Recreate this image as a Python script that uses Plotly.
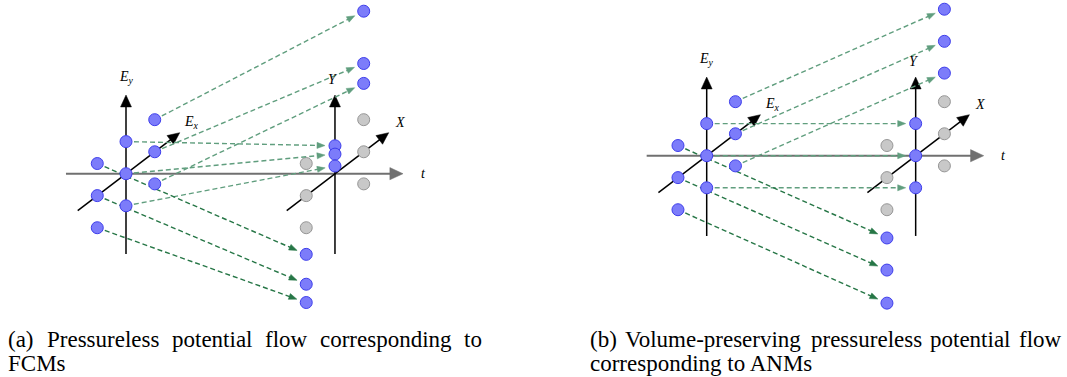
import math
import plotly.graph_objects as go

# ---------------- data (logical coordinates) ----------------
# source grid points at t = 0, given as (Ex, Ey)
src_ex = [1, 1, 1, 0, 0, 0, -1, -1, -1]
src_ey = [1, 0, -1, 1, 0, -1, 1, 0, -1]
# Ey coordinate reached at t = T (same Ex column) for each source point
fcm_dest_ey = [4.38, 2.75, 2.13, 0.87, 0.61, 0.24, -1.83, -2.76, -3.33]
anm_dest_ey = [3.88, 2.88, 1.89, 1.00, 0.00, -1.00, -1.88, -2.88, -3.91]
# grey "ghost" grid points at t = T
ghost_ex = [1, 1, 1, -1, -1, -1]
ghost_ey = [1, 0, -1, 1, 0, -1]
t_end = 6.51

# axis extents (logical units)
t_axis = (-1.87, 8.63)
ey_axis = (-2.5, 2.45)
ex_axis = (-1.68, 1.87)

captions = {
    "a": [["(a)", "Pressureless", "potential", "flow", "corresponding", "to"], ["FCMs"]],
    "b": [["(b)", "Volume-preserving", "pressureless", "potential", "flow"], ["corresponding to ANMs"]],
}

# ---------------- styling / projection ----------------
W, H = 1067, 377
S = 32.1                 # px per logical unit
CX, CY = 0.895, 0.683    # oblique projection of the Ex direction
BLUE_FILL, BLUE_EDGE = "rgb(124,124,250)", "rgb(62,62,235)"
GREY_FILL, GREY_EDGE = "rgb(200,200,200)", "rgb(150,150,150)"
GREEN_DARK, GREEN_LIGHT = "rgb(38,118,70)", "rgb(96,158,126)"
FONT = "Liberation Serif"


def proj(t, ex, ey):
    return t + CX * ex, ey + CY * ex


fig = go.Figure()


def head(xr, yr, tip, d, L, hw, color):
    n = math.hypot(*d)
    ux, uy = d[0] / n, d[1] / n
    bx, by = tip[0] - L * ux, tip[1] - L * uy
    px, py = -uy, ux
    fig.add_trace(go.Scatter(
        x=[tip[0], bx + hw * px, bx - hw * px, tip[0]],
        y=[tip[1], by + hw * py, by - hw * py, tip[1]],
        mode="lines", fill="toself", fillcolor=color,
        line=dict(color=color, width=0.5), hoverinfo="skip",
        xaxis=xr, yaxis=yr))


def arrow(xr, yr, p0, p1, color, width, L, hw, dash="solid"):
    d = (p1[0] - p0[0], p1[1] - p0[1])
    n = math.hypot(*d)
    e = (p1[0] - 0.5 * L * d[0] / n, p1[1] - 0.5 * L * d[1] / n)
    fig.add_trace(go.Scatter(x=[p0[0], e[0]], y=[p0[1], e[1]], mode="lines",
                             line=dict(color=color, width=width, dash=dash), hoverinfo="skip",
                             xaxis=xr, yaxis=yr))
    head(xr, yr, p1, d, L, hw, color)


def panel(xr, yr, dest_ey):
    # time axis
    arrow(xr, yr, (t_axis[0], 0), (t_axis[1], 0), "rgb(112,112,112)", 2, 0.41, 0.19)
    for t0 in (0, t_end):
        arrow(xr, yr, proj(t0, 0, ey_axis[0]), proj(t0, 0, ey_axis[1]), "black", 1.5, 0.37, 0.17)
        arrow(xr, yr, proj(t0, ex_axis[0], 0), proj(t0, ex_axis[1], 0), "black", 1.5, 0.37, 0.17)
    # ghost points
    gx, gy = zip(*[proj(t_end, a, b) for a, b in zip(ghost_ex, ghost_ey)])
    fig.add_trace(go.Scatter(x=gx, y=gy, mode="markers",
                             marker=dict(size=12, color=GREY_FILL, line=dict(color=GREY_EDGE, width=1)),
                             hoverinfo="skip", xaxis=xr, yaxis=yr))
    # flow arrows
    for ex, ey, de in zip(src_ex, src_ey, dest_ey):
        s = proj(0, ex, ey)
        d = proj(t_end, ex, de)
        n = math.hypot(d[0] - s[0], d[1] - s[1])
        tip = (d[0] - 0.31 * (d[0] - s[0]) / n, d[1] - 0.31 * (d[1] - s[1]) / n)
        col = GREEN_DARK if ex < 0 else GREEN_LIGHT
        arrow(xr, yr, s, tip, col, 1.4, 0.25, 0.095, dash="5px,3px")
    # source and destination points
    sx, sy = zip(*[proj(0, a, b) for a, b in zip(src_ex, src_ey)])
    dx, dy = zip(*[proj(t_end, a, b) for a, b in zip(src_ex, dest_ey)])
    fig.add_trace(go.Scatter(x=list(sx) + list(dx), y=list(sy) + list(dy), mode="markers",
                             marker=dict(size=12, color=BLUE_FILL, line=dict(color=BLUE_EDGE, width=1)),
                             hoverinfo="skip", xaxis=xr, yaxis=yr))
    # axis labels
    labs = [
        ("<i>E</i><sub><i>y</i></sub>", proj(0, 0, ey_axis[1]), 0, 18),
        ("<i>E</i><sub><i>x</i></sub>", proj(0, ex_axis[1], 0), 12, 10),
        ("<i>Y</i>", proj(t_end, 0, ey_axis[1]), -2, 16),
        ("<i>X</i>", proj(t_end, ex_axis[1], 0), 11, 10),
        ("<i>t</i>", (t_axis[1], 0), 20, 0),
    ]
    for txt, (x, y), xs, ys in labs:
        fig.add_annotation(x=x, y=y, xref=xr, yref=yr, text=txt, showarrow=False,
                           xshift=xs, yshift=ys, font=dict(family=FONT, size=14, color="black"))


# origins (px) of each panel
panel_origin = {"x": (126.0, 173.7), "x2": (706.7, 155.7)}
dom = {"x": (0.0, 0.5), "x2": (0.5, 1.0)}
for xr, yr, key in (("x", "y", "x"), ("x2", "y2", "x2")):
    ox, oy = panel_origin[key]
    d0, d1 = dom[key]
    left_px = d0 * W
    rng_x = [-(ox - left_px) / S, (d1 * W - ox) / S]
    rng_y = [-(H - oy) / S, oy / S]
    ax_name = "xaxis" if xr == "x" else "xaxis2"
    ay_name = "yaxis" if yr == "y" else "yaxis2"
    fig.layout[ax_name] = dict(domain=[d0, d1], range=rng_x, visible=False, anchor=yr, fixedrange=True)
    fig.layout[ay_name] = dict(domain=[0, 1], range=rng_y, visible=False, anchor=xr, fixedrange=True)

panel("x", "y", fcm_dest_ey)
panel("x2", "y2", anm_dest_ey)

# captions (justified first line: word start positions in px)
word_x = {"a": [7, 45.5, 170.8, 264.2, 318.5, 463.2], "b": [589, 623.7, 810.4, 929.4, 1017.8]}
line2_x = {"a": 7, "b": 589}
for key in ("a", "b"):
    l1, l2 = captions[key]
    for w, xp in zip(l1, word_x[key]):
        fig.add_annotation(x=xp / W, y=1 - 339 / H, xref="paper", yref="paper", text=w,
                           showarrow=False, xanchor="left", yanchor="middle", borderpad=0,
                           font=dict(family=FONT, size=23, color="black"))
    fig.add_annotation(x=line2_x[key] / W, y=1 - 363.5 / H, xref="paper", yref="paper", text=l2[0],
                       showarrow=False, xanchor="left", yanchor="middle", borderpad=0,
                       font=dict(family=FONT, size=23, color="black"))

fig.update_layout(width=W, height=H, margin=dict(l=0, r=0, t=0, b=0),
                  paper_bgcolor="white", plot_bgcolor="white", showlegend=False)
fig.write_html("out.html", config={"displayModeBar": False},
               post_script="document.body.style.margin='0';document.body.style.overflow='hidden';")
